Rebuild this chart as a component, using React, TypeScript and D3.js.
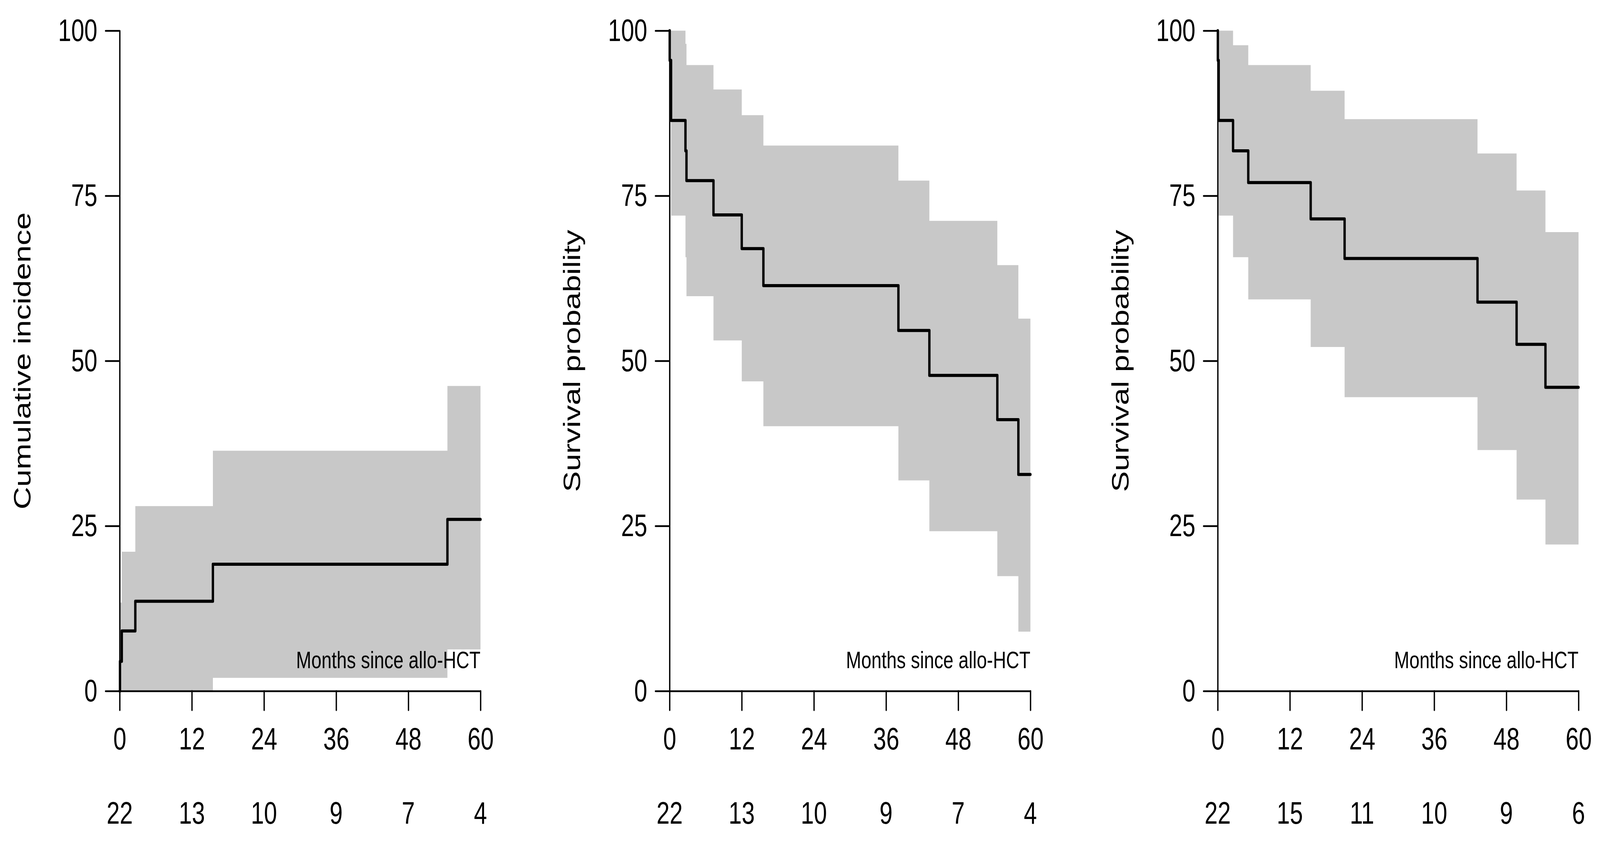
import React, { useEffect, useRef } from "react";
import * as d3 from "d3";

// shared axis values
const months = [0, 12, 24, 36, 48, 60];
const yTicks = [0, 25, 50, 75, 100];

// panel 1: cumulative incidence
const ciTimes = [0, 0.05, 0.35, 2.6, 15.5, 54.5];
const ciEst = [0, 4.5, 9.1, 13.6, 19.2, 26.0];
const ciLower = [0, 0, 0, 0, 2.0, 6.3];
const ciUpper = [0, 13.4, 21.1, 28.0, 36.4, 46.2];
const ciAtRisk = [22, 13, 10, 9, 7, 4];

// panel 2: survival
const osTimes = [0, 0.02, 0.25, 2.64, 2.81, 7.3, 12.0, 15.6, 38.05, 43.2, 54.5, 58.0];
const osEst = [100, 95.5, 86.4, 81.8, 77.3, 72.1, 67.0, 61.4, 54.6, 47.8, 41.1, 32.8];
const osLower = [100, 87.0, 72.0, 65.7, 59.8, 53.1, 46.9, 40.1, 31.9, 24.2, 17.4, 9.0];
const osUpper = [100, 100, 100, 98.0, 94.8, 91.1, 87.2, 82.6, 77.3, 71.2, 64.5, 56.4];
const osAtRisk = [22, 13, 10, 9, 7, 4];

// panel 3: survival
const pfsTimes = [0, 0.02, 0.16, 2.55, 5.08, 15.46, 21.1, 43.2, 49.7, 54.5];
const pfsEst = [100, 95.5, 86.4, 81.8, 77.0, 71.5, 65.5, 58.9, 52.5, 46.0];
const pfsLower = [100, 87.0, 72.0, 65.7, 59.3, 52.1, 44.5, 36.5, 29.0, 22.2];
const pfsUpper = [100, 100, 100, 97.8, 94.8, 90.9, 86.6, 81.4, 75.8, 69.5];
const pfsAtRisk = [22, 15, 11, 10, 9, 6];

const FONT = "'Liberation Sans', Arial, Helvetica, sans-serif";
const W = 5441;
const H = 2160;
const TOP = 78.5;
const BOTTOM = 1768.6;
const PW = 1227;

const Panel = (props: any) => {
  const yRef = useRef(null);
  const xRef = useRef(null);
  const x = d3.scaleLinear().domain([0, 60]).range([props.x0, props.x0 + PW]);
  const y = d3.scaleLinear().domain([0, 100]).range([BOTTOM, TOP]);

  const pts = props.times.map((t: number, i: number) => ({
    t,
    est: props.est[i],
    lo: props.lower[i],
    hi: props.upper[i],
  }));
  const last = pts[pts.length - 1];
  pts.push({ ...last, t: 60 });

  const area = d3
    .area<any>()
    .x((d) => x(d.t))
    .y0((d) => y(d.lo))
    .y1((d) => y(d.hi))
    .curve(d3.curveStepAfter);
  const line = d3
    .line<any>()
    .x((d) => x(d.t))
    .y((d) => y(d.est))
    .curve(d3.curveStepAfter);

  useEffect(() => {
    const gy = d3.select(yRef.current);
    gy.call(
      d3
        .axisLeft(y)
        .tickValues(yTicks)
        .tickSize(48)
        .tickSizeOuter(0)
        .tickPadding(28)
    );
    const gx = d3.select(xRef.current);
    gx.call(
      d3
        .axisBottom(x)
        .tickValues(months)
        .tickSize(49)
        .tickSizeOuter(0)
        .tickPadding(44)
    );
    [gy, gx].forEach((g: any) => {
      g.selectAll("path.domain")
        .attr("stroke", "#000")
        .attr("stroke-width", 4.5)
        .attr("stroke-linecap", "round");
      g.selectAll(".tick line")
        .attr("stroke", "#000")
        .attr("stroke-width", 4.5)
        .attr("stroke-linecap", "round");
      g.selectAll(".tick text")
        .attr("fill", "#000")
        .style("font-family", FONT)
        .style("font-size", "80px");
      g.attr("font-family", null).attr("font-size", null);
    });
  }, []);

  return (
    <g>
      <path d={area(pts) as string} fill="#c8c8c8" stroke="none" />
      <text
        x={x(60)}
        y={BOTTOM - 59}
        textAnchor="end"
        fontFamily={FONT}
        fontSize={62}
        fill="#000"
      >
        Months since allo-HCT
      </text>
      <g ref={yRef} transform={`translate(${props.x0},0)`} />
      <g ref={xRef} transform={`translate(0,${BOTTOM})`} />
      <path
        d={line(pts) as string}
        fill="none"
        stroke="#000"
        strokeWidth={8}
        strokeLinejoin="round"
        strokeLinecap="round"
      />
      <text
        transform={`translate(${props.x0 - 304},${(TOP + BOTTOM) / 2}) rotate(-90)`}
        textAnchor="middle"
        fontFamily={FONT}
        fontSize={80}
        fill="#000"
      >
        {props.ylab}
      </text>
      {months.map((m, i) => (
        <text
          key={m}
          x={x(m)}
          y={2108}
          textAnchor="middle"
          fontFamily={FONT}
          fontSize={80}
          fill="#000"
        >
          {props.atRisk[i]}
        </text>
      ))}
    </g>
  );
};

export default function App() {
  // the svg keeps its 5441x2160 drawing units but fills the viewport
  return (
    <svg
      viewBox={`0 0 ${W} ${H}`}
      preserveAspectRatio="none"
      style={{
        position: "absolute",
        left: 0,
        top: 0,
        width: "100vw",
        height: "100vh",
        display: "block",
        background: "#fff",
      }}
    >
      <rect width={W} height={H} fill="#fff" />
      <Panel
        x0={407}
        times={ciTimes}
        est={ciEst}
        lower={ciLower}
        upper={ciUpper}
        atRisk={ciAtRisk}
        ylab="Cumulative incidence"
      />
      <Panel
        x0={2277}
        times={osTimes}
        est={osEst}
        lower={osLower}
        upper={osUpper}
        atRisk={osAtRisk}
        ylab="Survival probability"
      />
      <Panel
        x0={4141}
        times={pfsTimes}
        est={pfsEst}
        lower={pfsLower}
        upper={pfsUpper}
        atRisk={pfsAtRisk}
        ylab="Survival probability"
      />
    </svg>
  );
}
